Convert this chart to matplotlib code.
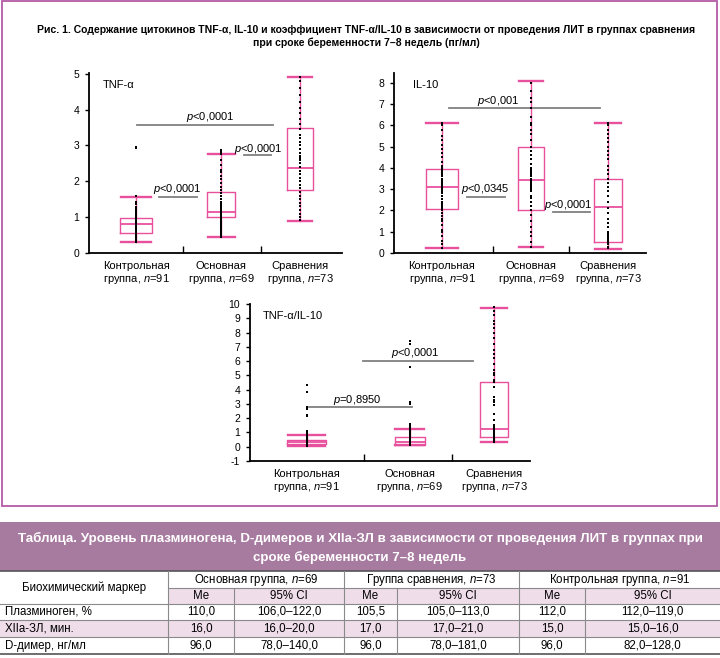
import matplotlib.pyplot as plt
from matplotlib.patches import Rectangle

plt.rcParams['font.family'] = ['Liberation Sans', 'DejaVu Sans']
plt.rcParams['mathtext.fontset'] = 'custom'
plt.rcParams['mathtext.it'] = 'Liberation Sans:italic'
plt.rcParams['mathtext.rm'] = 'Liberation Sans'

NARROW = ['Liberation Sans Narrow', 'Liberation Sans', 'DejaVu Sans']
PINK = '#E8509E'
FRAME = '#B25CA6'
BAND = '#A77A9F'
LIGHT = '#EFDDE9'

groups = ['Контрольная\nгруппа, $n$=91', 'Основная\nгруппа, $n$=69', 'Сравнения\nгруппа, $n$=73']

# box stats: (whislo, q1, med, q3, whishi)
tnf_stats = [(0.30, 0.57, 0.80, 0.97, 1.55), (0.45, 1.00, 1.15, 1.70, 2.75), (0.90, 1.77, 2.38, 3.48, 4.92)]
tnf_pts = [
    [0.32, 0.35, 0.38, 0.42, 0.45, 0.48, 0.52, 0.55, 0.58, 0.61, 0.64, 0.67, 0.70, 0.73, 0.76, 0.79, 0.82,
     0.85, 0.88, 0.91, 0.94, 0.97, 1.00, 1.04, 1.08, 1.12, 1.17, 1.22, 1.28, 1.36, 1.42, 1.60, 2.92, 2.97],
    [0.45, 0.50, 0.55, 0.60, 0.66, 0.72, 0.78, 0.84, 0.90, 0.96, 1.00, 1.04, 1.08, 1.12, 1.16, 1.20, 1.25,
     1.30, 1.36, 1.42, 1.50, 1.58, 1.66, 1.75, 1.85, 1.95, 2.05, 2.15, 2.25, 2.32, 2.45, 2.60, 2.75, 2.82, 2.88],
    [0.92, 1.00, 1.10, 1.20, 1.30, 1.40, 1.50, 1.60, 1.70, 1.80, 1.90, 2.00, 2.10, 2.20, 2.30, 2.40, 2.50,
     2.60, 2.65, 2.70, 2.80, 2.90, 3.00, 3.10, 3.20, 3.30, 3.45, 3.60, 3.75, 3.90, 4.05, 4.20, 4.40, 4.60, 4.80, 4.92],
]

il_stats = [(0.22, 2.05, 3.10, 3.97, 6.10), (0.30, 2.00, 3.45, 5.00, 8.10), (0.20, 0.50, 2.17, 3.47, 6.12)]
il_pts = [
    [0.25, 0.40, 0.55, 0.80, 1.00, 1.10, 1.30, 1.50, 1.60, 1.75, 1.90, 2.00, 2.10, 2.20, 2.30, 2.40, 2.55, 2.70,
     2.80, 2.90, 3.00, 3.10, 3.20, 3.30, 3.40, 3.50, 3.60, 3.70, 3.80, 3.90, 4.00, 4.10, 4.30, 4.50, 4.70, 4.90,
     5.10, 5.30, 5.50, 5.80, 6.00, 6.10],
    [0.30, 0.50, 0.80, 1.00, 1.20, 1.50, 1.80, 2.00, 2.20, 2.40, 2.60, 2.70, 2.90, 3.00, 3.10, 3.20, 3.30, 3.40,
     3.50, 3.60, 3.70, 3.80, 3.90, 4.00, 4.20, 4.40, 4.60, 4.80, 5.00, 5.30, 5.60, 5.80, 6.00, 6.10, 6.40, 6.80,
     7.10, 7.30, 7.60, 8.00],
    [0.22, 0.30, 0.40, 0.50, 0.60, 0.70, 0.80, 0.90, 1.00, 1.20, 1.40, 1.60, 1.90, 2.10, 2.40, 2.70, 2.90, 3.10,
     3.30, 3.50, 3.70, 3.90, 4.10, 4.40, 4.60, 4.80, 5.00, 5.20, 5.40, 5.60, 5.80, 6.00, 6.10],
]

ratio_stats = [(0.02, 0.20, 0.35, 0.47, 0.82), (0.10, 0.15, 0.35, 0.65, 1.21), (0.30, 0.70, 1.21, 4.55, 9.70)]
ratio_pts = [
    [0.02, 0.08, 0.14, 0.20, 0.26, 0.32, 0.38, 0.44, 0.50, 0.56, 0.62, 0.70, 0.78, 0.86, 0.94, 1.02, 1.10,
     2.15, 2.25, 2.65, 2.75, 3.85, 4.30],
    [0.12, 0.20, 0.28, 0.36, 0.44, 0.52, 0.60, 0.70, 0.80, 0.90, 1.00, 1.10, 1.20, 1.30, 1.40, 1.50, 1.60,
     3.00, 3.10, 5.60, 7.20, 7.40],
    [0.32, 0.40, 0.50, 0.60, 0.70, 0.80, 0.90, 1.00, 1.10, 1.20, 1.30, 1.40, 1.50, 1.90, 2.30, 2.90, 3.10,
     3.30, 3.50, 4.20, 4.50, 4.70, 5.00, 5.20, 5.40, 5.80, 6.20, 6.50, 6.80, 7.20, 7.60, 8.00, 8.30, 8.60,
     8.80, 9.20, 9.50, 9.80],
]

# table
table_title = ('Таблица. Уровень плазминогена, D-димеров и XIIa-ЗЛ в зависимости от проведения ЛИТ в группах при',
               'сроке беременности 7–8 недель')
col_groups = ['Основная группа, $n$=69', 'Группа сравнения, $n$=73', 'Контрольная группа, $n$=91']
row_names = ['Плазминоген, %', 'XIIa-ЗЛ, мин.', 'D-димер, нг/мл']
me_vals = [['110,0', '105,5', '112,0'], ['16,0', '17,0', '15,0'], ['96,0', '96,0', '96,0']]
ci_vals = [['106,0–122,0', '105,0–113,0', '112,0–119,0'],
           ['16,0–20,0', '17,0–21,0', '15,0–16,0'],
           ['78,0–140,0', '78,0–181,0', '82,0–128,0']]

W, H = 720, 658
fig = plt.figure(figsize=(W / 100, H / 100), dpi=100)

# background layer in pixel coordinates
bg = fig.add_axes([0, 0, 1, 1])
bg.set_xlim(0, W)
bg.set_ylim(H, 0)
bg.axis('off')
bg.add_patch(Rectangle((2, 1), 715, 505, fill=False, edgecolor=FRAME, lw=1.3))
bg.text(366, 30, 'Рис. 1. Содержание цитокинов TNF-α, IL-10 и коэффициент TNF-α/IL-10 в зависимости от проведения ЛИТ в группах сравнения',
        ha='center', va='center', fontsize=7.5, fontweight='bold', family=NARROW)
bg.text(366, 43, 'при сроке беременности 7–8 недель (пг/мл)',
        ha='center', va='center', fontsize=7.5, fontweight='bold', family=NARROW)


def px_rect(x0, x1, ytop, ybot):
    return [x0 / W, 1 - ybot / H, (x1 - x0) / W, (ybot - ytop) / H]


def panel(rect, xlim, ylim, yticks, stats, pts, pos, widths, seps, name, name_xy, sigs):
    ax = fig.add_axes(rect)
    ax.set_facecolor('none')
    bx = [dict(whislo=s[0], q1=s[1], med=s[2], q3=s[3], whishi=s[4], fliers=[]) for s in stats]
    ax.bxp(bx, positions=pos, widths=widths, showfliers=False, manage_ticks=False,
           boxprops=dict(color=PINK, lw=1.0),
           medianprops=dict(color=PINK, lw=1.3),
           whiskerprops=dict(color=PINK, lw=1.0),
           capprops=dict(color=PINK, lw=1.7), capwidths=[w * 0.95 for w in widths])
    for p, vals in zip(pos, pts):
        ax.plot([p] * len(vals), vals, 's', color='black', ms=1.9, mew=0, zorder=5)
    for x0, x1, y, txt, tx, ty in sigs:
        ax.plot([x0, x1], [y, y], color='#808080', lw=1.3)
        ax.text(tx, ty, txt, ha='center', va='center', fontsize=8)
    ax.text(name_xy[0], name_xy[1], name, ha='left', va='center', fontsize=8)
    ax.set_xlim(*xlim)
    ax.set_ylim(*ylim)
    ax.set_yticks(yticks)
    ax.set_yticklabels([str(t) for t in yticks])
    ax.set_xticks(seps)
    ax.set_xticklabels([])
    ax.set_xticks(pos, minor=True)
    ax.set_xticklabels(groups, minor=True, fontsize=8, linespacing=1.1)
    ax.tick_params(axis='x', which='major', direction='in', length=5, width=1)
    ax.tick_params(axis='x', which='minor', length=0, pad=6)
    ax.tick_params(axis='y', length=3, width=1, labelsize=7.5, pad=4)
    for s in ['top', 'right']:
        ax.spines[s].set_visible(False)
    for s in ['left', 'bottom']:
        ax.spines[s].set_linewidth(1.3)
    return ax


panel(px_rect(89, 342, 73, 253), (-0.705, 2.538), (0, 5.02), [0, 1, 2, 3, 4, 5],
      tnf_stats, tnf_pts, [-0.10, 0.99, 2.0], [0.41, 0.36, 0.33], [0.5, 1.5], 'TNF-α', (-0.53, 4.68),
      [(-0.09, 1.65, 3.56, '$p$<0,0001', 0.85, 3.80),
       (0.19, 0.68, 1.57, '$p$<0,0001', 0.43, 1.78),
       (1.28, 1.63, 2.73, '$p$<0,0001', 1.47, 2.89)])

panel(px_rect(394, 646, 73, 253), (-0.80, 2.51), (0, 8.47), [0, 1, 2, 3, 4, 5, 6, 7, 8],
      il_stats, il_pts, [-0.17, 1.0, 2.01], [0.43, 0.34, 0.36], [0.5, 1.5], 'IL-10', (-0.55, 7.92),
      [(-0.08, 1.91, 6.80, '$p$<0,001', 0.57, 7.13),
       (0.16, 0.66, 2.65, '$p$<0,0345', 0.40, 2.99),
       (1.29, 1.78, 1.92, '$p$<0,0001', 1.49, 2.24)])

panel(px_rect(250, 530, 304, 461), (-0.795, 2.39), (-1, 10), list(range(-1, 11)),
      ratio_stats, ratio_pts, [-0.15, 1.02, 1.98], [0.44, 0.34, 0.31], [0.5, 1.5], 'TNF-α/IL-10', (-0.65, 9.16),
      [(-0.125, 1.045, 2.80, '$p$=0,8950', 0.42, 3.27),
       (0.49, 1.74, 6.03, '$p$<0,0001', 1.08, 6.54)])

# table
tab_top, band_bot = 522, 571
rows_y = [571, 588, 604, 620, 637, 654]
cols_x = [0, 168, 234, 344, 397, 519, 585, 720]
bg.add_patch(Rectangle((0, tab_top), W, band_bot - tab_top, color=BAND, lw=0))
bg.text(360, 538, table_title[0], ha='center', va='center', color='white', fontsize=9.6,
        fontweight='bold', family=NARROW)
bg.text(360, 557, table_title[1], ha='center', va='center', color='white', fontsize=9.6,
        fontweight='bold', family=NARROW)
bg.add_patch(Rectangle((cols_x[1], rows_y[1]), W - cols_x[1], rows_y[2] - rows_y[1], color=LIGHT, lw=0))
bg.add_patch(Rectangle((0, rows_y[3]), W, rows_y[4] - rows_y[3], color=LIGHT, lw=0))
grid = '#8a8a8a'
bg.plot([0, W], [rows_y[0], rows_y[0]], color='#555555', lw=1.2)
bg.plot([0, W], [rows_y[-1], rows_y[-1]], color='#555555', lw=1.2)
bg.plot([cols_x[1], W], [rows_y[1], rows_y[1]], color=grid, lw=0.8)
for y in rows_y[2:-1]:
    bg.plot([0, W], [y, y], color=grid, lw=0.8)
for x in [cols_x[1], cols_x[3], cols_x[5]]:
    bg.plot([x, x], [rows_y[0], rows_y[-1]], color=grid, lw=0.8)
for x in [cols_x[2], cols_x[4], cols_x[6]]:
    bg.plot([x, x], [rows_y[1], rows_y[-1]], color=grid, lw=0.8)

tfs = 8.3
bg.text(cols_x[1] / 2, (rows_y[0] + rows_y[2]) / 2, 'Биохимический маркер', ha='center', va='center',
        fontsize=tfs, family=NARROW)
for i, g in enumerate(col_groups):
    xa, xb, xc = cols_x[1 + 2 * i], cols_x[2 + 2 * i], cols_x[3 + 2 * i]
    bg.text((xa + xc) / 2, (rows_y[0] + rows_y[1]) / 2, g, ha='center', va='center', fontsize=tfs, family=NARROW)
    bg.text((xa + xb) / 2, (rows_y[1] + rows_y[2]) / 2, 'Me', ha='center', va='center', fontsize=tfs, family=NARROW)
    bg.text((xb + xc) / 2, (rows_y[1] + rows_y[2]) / 2, '95% CI', ha='center', va='center', fontsize=tfs, family=NARROW)
    for r in range(3):
        yc = (rows_y[2 + r] + rows_y[3 + r]) / 2
        bg.text((xa + xb) / 2, yc, me_vals[r][i], ha='center', va='center', fontsize=tfs, family=NARROW)
        bg.text((xb + xc) / 2, yc, ci_vals[r][i], ha='center', va='center', fontsize=tfs, family=NARROW)
for r, name in enumerate(row_names):
    bg.text(5, (rows_y[2 + r] + rows_y[3 + r]) / 2, name, ha='left', va='center', fontsize=tfs, family=NARROW)

fig.savefig('out.png', dpi=100)
